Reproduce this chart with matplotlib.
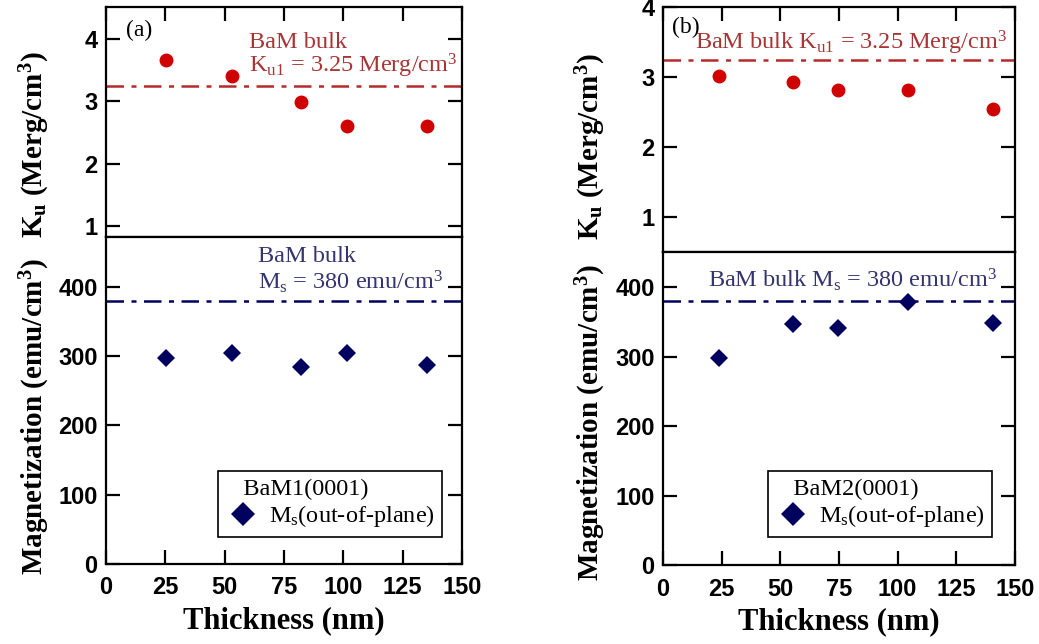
import matplotlib
matplotlib.use("Agg")
import matplotlib.pyplot as plt
from matplotlib.lines import Line2D

# ---- data -------------------------------------------------------------
thick_a = [25.2, 53.2, 82.2, 101.4, 135.3]
ku_a = [3.66, 3.41, 2.99, 2.60, 2.61]
ms_a = [297, 304, 285, 305, 287]

thick_b = [23.9, 55.2, 74.4, 104.5, 140.5]
ku_b = [3.02, 2.93, 2.81, 2.82, 2.54]
ms_b = [298, 347, 342, 379, 348]

ku_bulk = 3.25
ms_bulk = 380

x_ticks = [0, 25, 50, 75, 100, 125, 150]
ku_ticks_a = [1, 2, 3, 4]
ku_ticks_b = [1, 2, 3, 4]
ms_ticks = [0, 100, 200, 300, 400]

sample_a = "BaM1(0001)"
sample_b = "BaM2(0001)"

# ---- style ------------------------------------------------------------
plt.rcParams.update({
    "mathtext.fontset": "custom",
    "mathtext.rm": "Liberation Serif",
    "mathtext.bf": "Liberation Serif:bold",
    "mathtext.it": "Liberation Serif:italic",
})

RED = "#d00000"
RED_TXT = "#a83434"
RED_LINE = "#b52a2a"
NAVY = "#00005e"
NAVY_TXT = "#34346e"
SERIF = "Liberation Serif"
SANS = "Liberation Sans"
TICK_FS = 17
XLABEL_FS = 22
YLABEL_FS = 21
NOTE_FS = 17.5

fig = plt.figure(figsize=(10.39, 6.44), dpi=100)
W, H = 1039, 644


def rect(x0, y0, x1, y1):
    return [x0 / W, 1 - y1 / H, (x1 - x0) / W, (y1 - y0) / H]


ax_ka = fig.add_axes(rect(106, 7, 462, 237))
ax_ma = fig.add_axes(rect(106, 237, 462, 564))
ax_kb = fig.add_axes(rect(663, 7, 1015, 252))
ax_mb = fig.add_axes(rect(663, 252, 1015, 565))


def style_axes(ax, top_panel):
    for s in ax.spines.values():
        s.set_linewidth(1.6)
    ax.set_xlim(0, 150)
    ax.set_xticks(x_ticks)
    ax.tick_params(axis="both", direction="in", length=10, width=1.6,
                   labelsize=TICK_FS)
    ax.tick_params(axis="y", left=True, right=True, pad=6)
    if top_panel:
        ax.tick_params(axis="x", top=True, bottom=False, labelbottom=False)
    else:
        ax.tick_params(axis="x", top=False, bottom=True, pad=9)
    for lab in ax.get_xticklabels() + ax.get_yticklabels():
        lab.set_fontfamily(SANS)
        lab.set_fontweight("bold")


# ---- K_u panels -------------------------------------------------------
ku_label = r"K$_\mathbf{u}$ (Merg/cm$^\mathbf{3}$)"
ms_label = r"Magnetization (emu/cm$^\mathbf{3}$)"

for ax, x, y, lim, ticks in [(ax_ka, thick_a, ku_a, (0.82, 4.52), ku_ticks_a),
                             (ax_kb, thick_b, ku_b, (0.5, 4.0), ku_ticks_b)]:
    ax.plot(x, y, "o", color=RED, markersize=10, markeredgewidth=0, zorder=3)
    ax.axhline(ku_bulk, color=RED_LINE, lw=1.8, dashes=(7, 3, 2, 3))
    ax.set_ylim(*lim)
    ax.set_yticks(ticks)
    style_axes(ax, True)
    ax.set_ylabel(ku_label, fontfamily=SERIF, fontweight="bold",
                  fontsize=YLABEL_FS, va="center")

ax_ka.yaxis.set_label_coords(-0.2, 0.40)
ax_kb.yaxis.set_label_coords(-0.205, 0.43)

# ---- M_s panels -------------------------------------------------------
for ax, x, y, lim in [(ax_ma, thick_a, ms_a, (0, 472)),
                      (ax_mb, thick_b, ms_b, (0, 451))]:
    ax.plot(x, y, "D", color=NAVY, markersize=9, markeredgewidth=0, zorder=3)
    ax.axhline(ms_bulk, color=NAVY, lw=1.8, dashes=(7, 3, 2, 3))
    ax.set_ylim(*lim)
    ax.set_yticks(ms_ticks)
    style_axes(ax, False)
    ax.set_ylabel(ms_label, fontfamily=SERIF, fontweight="bold",
                  fontsize=YLABEL_FS, va="center")
    ax.set_xlabel("Thickness (nm)", fontfamily=SERIF, fontweight="bold",
                  fontsize=XLABEL_FS, labelpad=5)

ax_ma.yaxis.set_label_coords(-0.2, 0.45)
ax_mb.yaxis.set_label_coords(-0.205, 0.455)

# ---- annotations ------------------------------------------------------
note = dict(fontfamily=SERIF, fontsize=NOTE_FS, va="center", ha="left")
ax_ka.text(0.402, 0.847, "BaM bulk", color=RED_TXT, transform=ax_ka.transAxes, **note)
ax_ka.text(0.402, 0.745, r"K$_\mathrm{u1}$ = 3.25 Merg/cm$^\mathrm{3}$",
           color=RED_TXT, transform=ax_ka.transAxes, **note)
ax_kb.text(0.09, 0.855, r"BaM bulk K$_\mathrm{u1}$ = 3.25 Merg/cm$^\mathrm{3}$",
           color=RED_TXT, transform=ax_kb.transAxes, **note)
ax_ma.text(0.428, 0.94, "BaM bulk", color=NAVY_TXT, transform=ax_ma.transAxes, **note)
ax_ma.text(0.428, 0.862, r"M$_\mathrm{s}$ = 380 emu/cm$^\mathrm{3}$",
           color=NAVY_TXT, transform=ax_ma.transAxes, **note)
ax_mb.text(0.128, 0.91, r"BaM bulk M$_\mathrm{s}$ = 380 emu/cm$^\mathrm{3}$",
           color=NAVY_TXT, transform=ax_mb.transAxes, **note)

panel = dict(fontfamily=SERIF, fontsize=17, va="center", ha="left")
ax_ka.text(0.055, 0.9, "(a)", transform=ax_ka.transAxes, **panel)
ax_kb.text(0.025, 0.915, "(b)", transform=ax_kb.transAxes, **panel)

# ---- legends ----------------------------------------------------------
for ax, title, anchor in [(ax_ma, sample_a, (0.943, 0.0835)),
                          (ax_mb, sample_b, (0.934, 0.0904))]:
    h = Line2D([], [], ls="none", marker="D", color=NAVY, markersize=12,
               markeredgewidth=0)
    leg = ax.legend([h], [r"M$_\mathrm{s}$(out-of-plane)"], title="   " + title,
                    loc="lower right", bbox_to_anchor=anchor,
                    prop={"family": SERIF, "size": NOTE_FS},
                    title_fontproperties={"family": SERIF, "size": NOTE_FS},
                    alignment="left", frameon=True, fancybox=False,
                    edgecolor="black", framealpha=1, borderpad=0.3,
                    labelspacing=0.15, handlelength=1.5, handletextpad=0.3,
                    borderaxespad=0)
    leg.get_frame().set_linewidth(1.2)

fig.savefig("out.png", dpi=100)
